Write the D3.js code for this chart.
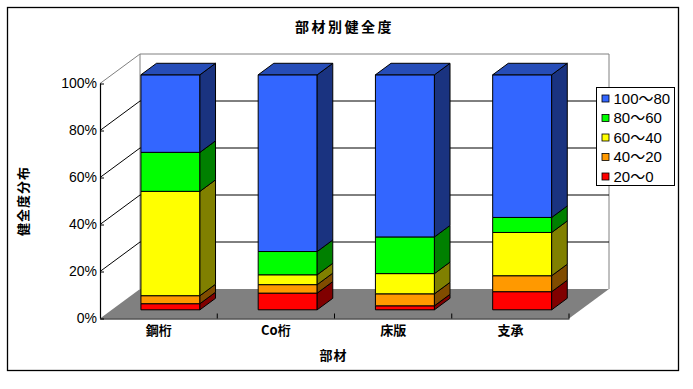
<!DOCTYPE html>
<html>
<head>
<meta charset="utf-8">
<script src="https://cdn.jsdelivr.net/npm/d3@7"></script>
<style>
html, body { margin: 0; padding: 0; background: #fff; }
svg { display: block; }
text { fill: #000; }
.tick-pct { font-family: "Liberation Sans", sans-serif; font-size: 14px; }
.jp { font-family: "Noto Sans CJK JP", sans-serif; font-weight: 700; font-size: 13px; }
.legend-text { font-family: "Liberation Sans", "Noto Sans CJK JP", sans-serif; font-size: 15px; }
</style>
</head>
<body>
<svg id="chart" width="693" height="389"></svg>
<script>
const categories = ["鋼桁", "Co桁", "床版", "支承"];
const seriesNames = ["20～0", "40～20", "60～40", "80～60", "100～80"];
const red_vals = [2.6, 7.1, 1.7, 7.7];
const orange_vals = [3.4, 3.6, 5.1, 6.8];
const yellow_vals = [44.4, 4.2, 8.6, 18.4];
const green_vals = [16.6, 9.9, 15.6, 6.4];
const blue_vals = [33.0, 75.2, 69.0, 60.7];
const y_ticks = [0, 20, 40, 60, 80, 100];
const front_colors = ["#ff0000", "#ff9900", "#ffff00", "#00ff00", "#3366ff"];
const side_colors = ["#800000", "#804c00", "#808000", "#008000", "#1a3380"];
const top_color = "#264db8";

const svg = d3.select("#chart");

const rows = categories.map((c, i) => ({
	cat: c,
	s0: red_vals[i], s1: orange_vals[i], s2: yellow_vals[i], s3: green_vals[i], s4: blue_vals[i]
}));
const stacked = d3.stack().keys(["s0", "s1", "s2", "s3", "s4"])(rows);

// front plane of the 3D box
const x = d3.scaleBand().domain(categories).range([100, 569]);
const y = d3.scaleLinear().domain([0, 100]).range([318.5, 83.5]);
const depth = { dx: 40, dy: -29.5 };
const bar_near = 0.295, bar_far = 0.685;
const bar_w = 59;
// project (category position, value, depth 0..1) on the page
const px = (xv, z) => xv + depth.dx * z;
const py = (v, z) => y(v) + depth.dy * z;
const poly = pts => "M" + pts.map(p => p.join(",")).join("L") + "Z";

// outer frame
svg.append("rect").attr("x", 7.5).attr("y", 7.5).attr("width", 671).attr("height", 363)
	.attr("fill", "#fff").attr("stroke", "#000").attr("stroke-width", 1.3);

// floor
svg.append("path")
	.attr("d", poly([[x.range()[0], y(0)], [x.range()[1], y(0)],
		[px(x.range()[1], 1), py(0, 1)], [px(x.range()[0], 1), py(0, 1)]]))
	.attr("fill", "#808080");

// walls outline
const wall = svg.append("g").attr("fill", "none").attr("stroke", "#808080").attr("stroke-width", 1);
wall.append("path").attr("d", d3.line()([
	[px(100, 0), py(100, 0)], [px(100, 1), py(100, 1)],
	[px(569, 1), py(100, 1)], [px(569, 1), py(0, 1)]]));
wall.append("path").attr("d", d3.line()([[px(100, 1), py(100, 1)], [px(100, 1), py(0, 1)]]));

// gridlines on the side and back walls
const grid = svg.append("g").attr("fill", "none").attr("stroke", "#000").attr("stroke-width", 1);
y_ticks.filter(t => t > 0 && t < 100).forEach(t => {
	grid.append("path").attr("d", d3.line()([
		[px(100, 0), py(t, 0)], [px(100, 1), py(t, 1)], [px(569, 1), py(t, 1)]]));
});

// bars
categories.forEach((c, i) => {
	const x0 = x(c) + x.bandwidth() / 2 - bar_w / 2;
	const x1 = x0 + bar_w;
	const bar = svg.append("g").attr("stroke", "#000").attr("stroke-width", 1).attr("stroke-linejoin", "round");
	stacked.forEach((s, k) => {
		const lo = s[i][0], hi = s[i][1];
		bar.append("rect")
			.attr("x", px(x0, bar_near)).attr("y", py(hi, bar_near))
			.attr("width", bar_w).attr("height", py(lo, bar_near) - py(hi, bar_near))
			.attr("fill", front_colors[k]);
		bar.append("path")
			.attr("d", poly([[px(x1, bar_near), py(lo, bar_near)], [px(x1, bar_far), py(lo, bar_far)],
				[px(x1, bar_far), py(hi, bar_far)], [px(x1, bar_near), py(hi, bar_near)]]))
			.attr("fill", side_colors[k]);
	});
	bar.append("path")
		.attr("d", poly([[px(x0, bar_near), py(100, bar_near)], [px(x1, bar_near), py(100, bar_near)],
			[px(x1, bar_far), py(100, bar_far)], [px(x0, bar_far), py(100, bar_far)]]))
		.attr("fill", top_color);
});

// axes
const y_axis = svg.append("g").attr("transform", "translate(100,0)")
	.call(d3.axisLeft(y).tickValues(y_ticks).tickFormat(d => d + "%").tickSize(-4).tickPadding(2));
y_axis.select(".domain").attr("stroke", "#000").attr("stroke-width", 1.2).attr("d", `M0.5,${y(100)}V${y(0)}`);
y_axis.selectAll(".tick text").attr("class", "tick-pct").attr("x", -3).attr("fill", "#000");

const x_axis = svg.append("g").attr("transform", `translate(0,${y(0)})`)
	.call(d3.axisBottom(x).tickSize(0).tickPadding(7));
x_axis.select(".domain").attr("stroke", "#000").attr("stroke-width", 1.2);
x_axis.selectAll(".tick text").attr("class", "jp").attr("fill", "#000");
const edges = categories.map(c => x(c) + x.bandwidth());
x_axis.selectAll(".edge").data(edges).enter().append("line")
	.attr("class", "edge")
	.attr("x1", d => d).attr("x2", d => d)
	.attr("y1", 0).attr("y2", -5)
	.attr("stroke", "#000");

// titles
svg.append("text").attr("class", "jp").attr("x", 344.5).attr("y", 32).attr("style", "font-size:14px")
	.attr("text-anchor", "middle").attr("letter-spacing", "2.5px").text("部材別健全度");
svg.append("text").attr("class", "jp").attr("x", 333.5).attr("y", 360)
	.attr("text-anchor", "middle").attr("letter-spacing", "1px").text("部材");
svg.append("text").attr("class", "jp")
	.attr("transform", "translate(28,201) rotate(-90)")
	.attr("text-anchor", "middle").attr("letter-spacing", "1px").text("健全度分布");

// legend
const legend = svg.append("g");
legend.append("rect").attr("x", 596.5).attr("y", 87.5).attr("width", 78).attr("height", 98)
	.attr("fill", "#fff").attr("stroke", "#000").attr("stroke-width", 1);
const legend_order = d3.range(seriesNames.length).reverse();
legend_order.forEach((k, j) => {
	const ly = 98.5 + j * 19.5;
	legend.append("rect").attr("x", 602).attr("y", ly - 3.5).attr("width", 7).attr("height", 7)
		.attr("fill", front_colors[k]).attr("stroke", "#000").attr("stroke-width", 0.8);
	legend.append("text").attr("class", "legend-text").attr("x", 613.5).attr("y", ly + 5).text(seriesNames[k]);
});
</script>
</body>
</html>
